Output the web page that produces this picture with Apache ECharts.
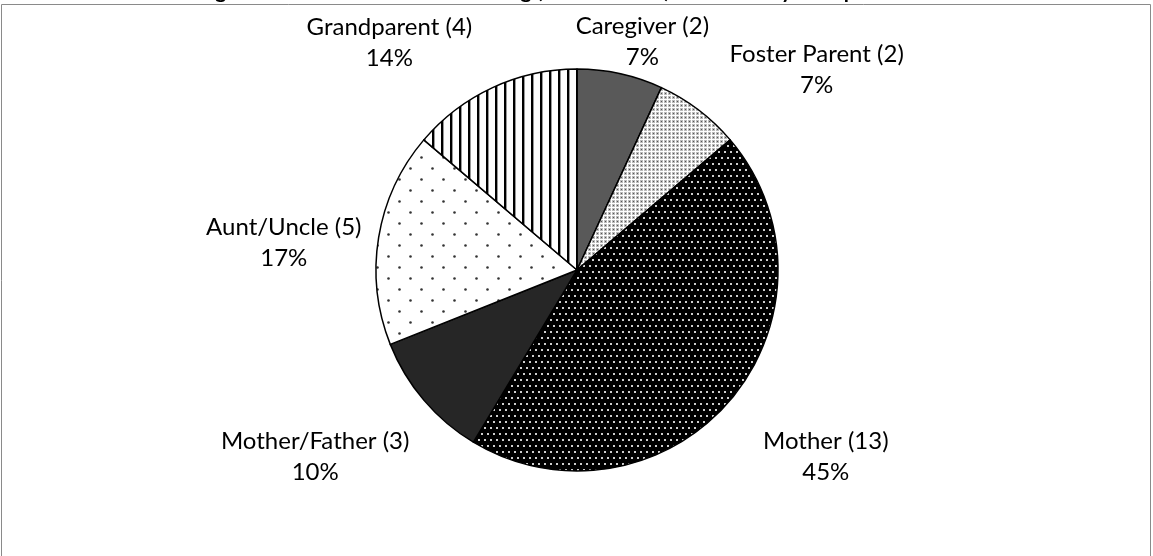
<!DOCTYPE html>
<html><head><meta charset="utf-8">
<script src="https://cdn.jsdelivr.net/npm/echarts@6/dist/echarts.min.js"></script>
<style>html,body{margin:0;padding:0;background:#fff}#c{width:1153px;height:556px}</style>
</head><body><div id="c"></div>
<script>
// ---- data ----
const categories = ['Caregiver', 'Foster Parent', 'Mother', 'Mother/Father', 'Aunt/Uncle', 'Grandparent'];
const counts = [2, 2, 13, 3, 5, 4];
const titleText = 'Living Status of Children Now Residing (N = 29 Cases) Classified by Group Members';

// ---- layout / style ----
const CX = 577, CY = 270, R = 201, GAP = 10;
const labelNudge = [[20, -22], [112, -32], [88, 50], [-101, 50], [-85, 7], [-99, -36]];
const FONT = 'Lato, "Open Sans", sans-serif';

function makePattern(w, h, draw) {
  const c = document.createElement('canvas');
  c.width = w; c.height = h;
  const ctx = c.getContext('2d');
  draw(ctx, w, h);
  return { image: c, repeat: 'repeat' };
}
const pFoster = makePattern(4, 4, (ctx) => {
  ctx.fillStyle = '#fff'; ctx.fillRect(0, 0, 4, 4);
  ctx.fillStyle = '#bbb'; ctx.fillRect(0, 0, 3, 3);
  ctx.fillStyle = '#555'; ctx.fillRect(1, 1, 1, 1);
});
const pMother = makePattern(6, 12, (ctx) => {
  ctx.fillStyle = '#000'; ctx.fillRect(0, 0, 6, 12);
  ctx.fillStyle = '#cfcfcf'; ctx.fillRect(1, 1, 2, 2); ctx.fillRect(4, 7, 2, 2);
});
const pAunt = makePattern(22, 22, (ctx) => {
  ctx.fillStyle = '#fff'; ctx.fillRect(0, 0, 22, 22);
  ctx.fillStyle = '#333';
  ctx.beginPath(); ctx.arc(3.5, 3.5, 1.3, 0, Math.PI * 2); ctx.fill();
  ctx.beginPath(); ctx.arc(14.5, 14.5, 1.3, 0, Math.PI * 2); ctx.fill();
});
const pGrand = makePattern(9, 9, (ctx) => {
  ctx.fillStyle = '#fff'; ctx.fillRect(0, 0, 9, 9);
  ctx.fillStyle = '#000'; ctx.fillRect(0, 0, 2, 9);
  ctx.fillStyle = '#999'; ctx.fillRect(2, 0, 1, 9);
});
const fills = ['#595959', pFoster, pMother, '#262626', pAunt, pGrand];

const total = counts.reduce((a, b) => a + b, 0);
function midAngle(i) {
  let before = 0;
  for (let j = 0; j < i; j++) before += counts[j];
  return (before + counts[i] / 2) / total * Math.PI * 2;
}

const chart = echarts.init(document.getElementById('c'), null, { renderer: 'canvas' });
chart.setOption({
  backgroundColor: '#fff',
  animation: false,
  graphic: [
    { type: 'rect', z: 0, shape: { x: 1.5, y: 4.5, width: 1149, height: 600 },
      style: { fill: 'none', stroke: '#8a8a8a', lineWidth: 1 } },
    { type: 'text', z: 1, x: 560, y: 2,
      style: { text: titleText, fill: '#000', font: 'bold 21px ' + FONT, textAlign: 'center', textVerticalAlign: 'bottom' } }
  ],
  series: [{
    type: 'pie',
    center: [CX, CY],
    radius: R,
    startAngle: 90,
    clockwise: true,
    avoidLabelOverlap: false,
    data: categories.map((n, i) => ({ name: n, value: counts[i], itemStyle: { color: fills[i] } })),
    itemStyle: { borderColor: '#000', borderWidth: 1.5 },
    label: {
      show: true, position: 'outside', color: '#000',
      fontFamily: FONT, fontSize: 24, lineHeight: 31,
      formatter: p => p.name + ' (' + p.value + ')\n' + Math.round(p.value / total * 100) + '%'
    },
    labelLine: { show: false },
    emphasis: { disabled: true },
    labelLayout: function (p) {
      const a = midAngle(p.dataIndex);
      const n = labelNudge[p.dataIndex];
      return {
        x: CX + (R + GAP) * Math.sin(a) + n[0],
        y: CY - (R + GAP) * Math.cos(a) + n[1],
        align: 'center', verticalAlign: 'middle'
      };
    }
  }]
});
</script></body></html>
